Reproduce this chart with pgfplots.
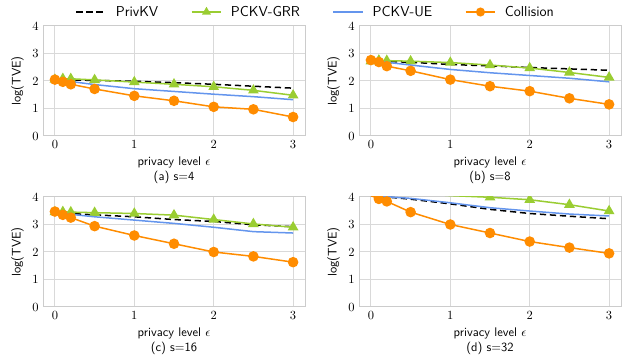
\documentclass[border=0pt]{standalone}
\usepackage{pgfplots}
\pgfplotsset{compat=1.18}
\definecolor{cgreen}{HTML}{9ACD32}
\definecolor{cblue}{HTML}{6495ED}
\definecolor{corange}{HTML}{FF8C00}
\pgfplotsset{
  myax/.style={scale only axis, width=209.6pt, height=88pt,
    xmin=-0.15, xmax=3.15, ymin=0, ymax=4,
    xtick={0,1,2,3}, ytick={0,1,2,3,4},
    grid=major, major grid style={gray!30, line width=0.8pt},
    axis line style={gray!40, line width=0.8pt},
    major tick length=0pt,
    ylabel={log(TVE)}, ylabel style={font=\sffamily},
    xlabel style={align=center, font=\sffamily},
    clip marker paths=true, anchor=south west,
    legend image code/.code={\draw[mark repeat=2,mark phase=2, mark size=3pt] plot coordinates {(0cm,0cm) (0.42cm,0cm) (0.84cm,0cm)};}},
  pk/.style={black, dashed, dash pattern=on 5pt off 3pt, line width=1.2pt, no marks},
  grr/.style={cgreen, line width=1.2pt, mark=triangle*, mark size=3.8pt, mark options={solid, fill=cgreen}},
  ue/.style={cblue, line width=1.2pt, no marks},
  col/.style={corange, line width=1.2pt, mark=*, mark size=3.6pt, mark options={solid, fill=corange}},
}
\begin{document}
\begin{tikzpicture}
\useasboundingbox (0pt,0pt) rectangle (505.6pt,291.2pt);
% (a)
\begin{axis}[myax, at={(34.4pt,182.4pt)}, xlabel={privacy level $\epsilon$\\(a) s=4},
  legend style={at={(1.042,1.127)}, anchor=center, draw=none, fill=none, legend columns=4,
    font=\sffamily\fontsize{11.5}{13}\selectfont,
    /tikz/every odd column/.append style={column sep=5pt},
    /tikz/every even column/.append style={column sep=24pt}}]
\addplot[pk] coordinates {(0,2.05)(0.1,2.05)(0.2,2.04)(0.5,2.02)(1,1.99)(1.5,1.94)(2,1.88)(2.5,1.81)(3,1.74)};
\addlegendentry{PrivKV}
\addplot[grr] coordinates {(0,2.05)(0.1,2.08)(0.2,2.08)(0.5,2.04)(1,1.96)(1.5,1.88)(2,1.79)(2.5,1.66)(3,1.48)};
\addlegendentry{PCKV-GRR}
\addplot[ue] coordinates {(0,2.05)(0.1,2.02)(0.2,1.98)(0.5,1.87)(1,1.72)(1.5,1.62)(2,1.52)(2.5,1.43)(3,1.32)};
\addlegendentry{PCKV-UE}
\addplot[col] coordinates {(0,2.05)(0.1,1.97)(0.2,1.88)(0.5,1.71)(1,1.46)(1.5,1.28)(2,1.06)(2.5,0.97)(3,0.69)};
\addlegendentry{Collision}
\end{axis}
% (b)
\begin{axis}[myax, at={(287.2pt,182.4pt)}, xlabel={privacy level $\epsilon$\\(b) s=8}]
\addplot[pk] coordinates {(0,2.72)(0.1,2.72)(0.2,2.71)(0.5,2.68)(1,2.60)(1.5,2.55)(2,2.49)(2.5,2.44)(3,2.39)};
\addplot[grr] coordinates {(0,2.72)(0.1,2.75)(0.2,2.74)(0.5,2.72)(1,2.67)(1.5,2.58)(2,2.47)(2.5,2.31)(3,2.13)};
\addplot[ue] coordinates {(0,2.72)(0.1,2.70)(0.2,2.68)(0.5,2.58)(1,2.42)(1.5,2.30)(2,2.20)(2.5,2.10)(3,1.97)};
\addplot[col] coordinates {(0,2.76)(0.1,2.69)(0.2,2.54)(0.5,2.37)(1,2.05)(1.5,1.81)(2,1.63)(2.5,1.37)(3,1.15)};
\end{axis}
% (c)
\begin{axis}[myax, at={(34.4pt,45.6pt)}, xlabel={privacy level $\epsilon$\\(c) s=16}]
\addplot[pk] coordinates {(0,3.43)(0.1,3.42)(0.2,3.40)(0.5,3.35)(1,3.28)(1.5,3.18)(2,3.11)(2.5,2.99)(3,2.92)};
\addplot[grr] coordinates {(0,3.45)(0.1,3.46)(0.2,3.45)(0.5,3.43)(1,3.40)(1.5,3.34)(2,3.18)(2.5,3.02)(3,2.90)};
\addplot[ue] coordinates {(0,3.43)(0.1,3.40)(0.2,3.37)(0.5,3.28)(1,3.16)(1.5,3.04)(2,2.90)(2.5,2.74)(3,2.69)};
\addplot[col] coordinates {(0,3.47)(0.1,3.35)(0.2,3.25)(0.5,2.94)(1,2.60)(1.5,2.30)(2,2.00)(2.5,1.84)(3,1.63)};
\end{axis}
% (d)
\begin{axis}[myax, at={(287.2pt,45.6pt)}, xlabel={privacy level $\epsilon$\\(d) s=32}]
\addplot[pk] coordinates {(0,4.05)(0.1,4.02)(0.2,4.00)(0.5,3.92)(1,3.75)(1.5,3.55)(2,3.40)(2.5,3.30)(3,3.21)};
\addplot[grr] coordinates {(0,4.30)(0.1,4.30)(0.2,4.25)(0.5,4.15)(1,4.05)(1.5,3.99)(2,3.90)(2.5,3.72)(3,3.49)};
\addplot[ue] coordinates {(0,4.05)(0.1,4.03)(0.2,4.01)(0.5,3.95)(1,3.79)(1.5,3.61)(2,3.49)(2.5,3.38)(3,3.31)};
\addplot[col] coordinates {(0,4.05)(0.1,3.93)(0.2,3.84)(0.5,3.45)(1,3.00)(1.5,2.69)(2,2.38)(2.5,2.16)(3,1.95)};
\end{axis}
\end{tikzpicture}
\end{document}
